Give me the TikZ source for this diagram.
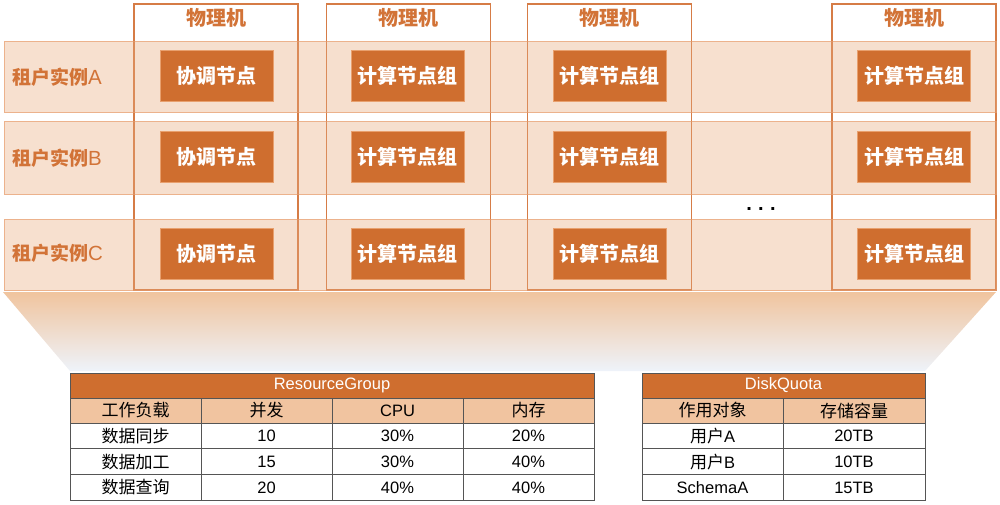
\documentclass[tikz,border=0pt]{standalone}
\usepackage{fontspec}
\setmainfont{Liberation Sans}
\newfontfamily\cjk{Noto Sans CJK SC}
\definecolor{colline}{RGB}{214,124,70}
\definecolor{bandline}{RGB}{236,178,140}
\definecolor{bandfill}{RGB}{239,193,159}
\definecolor{boxfill}{RGB}{207,110,47}
\definecolor{boxline}{RGB}{232,160,110}
\definecolor{otext}{RGB}{210,115,55}
\definecolor{hdrfill}{RGB}{241,196,160}
\definecolor{gridline}{RGB}{85,85,85}
\definecolor{gradtop}{RGB}{240,196,158}
\definecolor{gradbot}{RGB}{238,243,250}
\newcommand{\tc}[1]{{\cjk\fontsize{17}{20}\selectfont #1}}
\tikzset{
  machine/.style={draw=colline, line width=1.5pt, fill=white, minimum width=164pt, minimum height=286pt, inner sep=0pt, outer sep=0pt},
  machover/.style={draw=colline, draw opacity=0.55, line width=1.5pt, minimum width=164pt, minimum height=286pt, inner sep=0pt, outer sep=0pt},
  machlabel/.style={text=otext, font=\cjk\bfseries\fontsize{20}{24}\selectfont, inner sep=0pt},
  band/.style={draw=bandline, line width=1pt, fill=bandfill, fill opacity=0.5, minimum width=992pt, inner sep=0pt, outer sep=0pt},
  tenant/.style={text=otext, anchor=west, inner sep=0pt, font=\fontsize{20.5}{23}\selectfont},
  nodebox/.style={fill=boxfill, draw=boxline, line width=0.6pt, minimum width=113pt, minimum height=51pt, inner sep=0pt, text=white, font=\cjk\bfseries\fontsize{20}{24}\selectfont},
  cell/.style={draw=gridline, line width=0.8pt, inner sep=0pt, outer sep=0pt, font=\fontsize{16.5}{19}\selectfont, text=black},
  ttitle/.style={cell, fill=boxfill, text=white, minimum height=25pt},
  thead/.style={cell, fill=hdrfill, minimum height=25pt},
  tbody/.style={cell, fill=white, minimum height=25.7pt},
}
\begin{document}
\begin{tikzpicture}[x=1pt,y=-1pt]
\useasboundingbox (0,0) rectangle (1000,505);

% physical machines
\foreach \m/\x in {1/216,2/408.5,3/609.5,4/914}{
  \node[machine] (m\m) at (\x,147) {};
  \node[machlabel] (ml\m) at ([yshift=-14pt]m\m.north) {物理机};
}

% tenant bands
\node[band, minimum height=71pt] (bA) at (500,77.5) {};
\node[band, minimum height=72pt] (bB) at (500,158) {};
\node[band, minimum height=71pt] (bC) at (500,254.5) {};

% machine outlines showing through the bands
\foreach \m/\x in {1/216,2/408.5,3/609.5,4/914}{
  \node[machover] (mo\m) at (\x,147) {};
}

\node[tenant] (tA) at (12,77) {{\cjk\bfseries\fontsize{19}{23}\selectfont 租户实例}A};
\node[tenant] (tB) at (12,158) {{\cjk\bfseries\fontsize{19}{23}\selectfont 租户实例}B};
\node[tenant] (tC) at (12,253) {{\cjk\bfseries\fontsize{19}{23}\selectfont 租户实例}C};

% node boxes
\foreach \r/\y in {A/75.5,B/156.5,C/253.5}{
  \node[nodebox] (c1\r) at (216.5,\y) {协调节点};
  \node[nodebox] (c2\r) at (407.5,\y) {计算节点组};
  \node[nodebox] (c3\r) at (609.5,\y) {计算节点组};
  \node[nodebox] (c4\r) at (914,\y) {计算节点组};
}

\node[inner sep=0pt, font=\bfseries\fontsize{20}{24}\selectfont] (dots) at (761,209) {.\hspace{6.4pt}.\hspace{6.4pt}.};

% gradient funnel
\shade[top color=gradtop, bottom color=gradbot] (3,292) -- (996,292) -- (925,371) -- (70,371) -- cycle;

% ResourceGroup table
\node[ttitle, minimum width=524pt] (rgT) at (332,385.5) {ResourceGroup};
\foreach \c/\x/\t in {1/135.5/\tc{工作负载},2/266.5/\tc{并发},3/397.5/CPU,4/528.5/\tc{内存}}{
  \node[thead, minimum width=131pt] (rgH\c) at (\x,410.5) {\t};
}
\foreach \r/\y/\a/\b/\cc/\d in {1/436/数据同步/10/30\%/20\%,2/461.7/数据加工/15/30\%/40\%,3/487.4/数据查询/20/40\%/40\%}{
  \node[tbody, minimum width=131pt] (rg\r a) at (135.5,\y) {\tc{\a}};
  \node[tbody, minimum width=131pt] (rg\r b) at (266.5,\y) {\b};
  \node[tbody, minimum width=131pt] (rg\r c) at (397.5,\y) {\cc};
  \node[tbody, minimum width=131pt] (rg\r d) at (528.5,\y) {\d};
}

% DiskQuota table
\node[ttitle, minimum width=283pt] (dqT) at (783.5,385.5) {DiskQuota};
\node[thead, minimum width=141pt] (dqH1) at (712.5,410.5) {\tc{作用对象}};
\node[thead, minimum width=142pt] (dqH2) at (854,410.5) {\tc{存储容量}};
\foreach \r/\y/\a/\b in {1/436/{\tc{用户}A}/20TB,2/461.7/{\tc{用户}B}/10TB,3/487.4/SchemaA/15TB}{
  \node[tbody, minimum width=141pt] (dq\r a) at (712.5,\y) {\a};
  \node[tbody, minimum width=142pt] (dq\r b) at (854,\y) {\b};
}
\end{tikzpicture}
\end{document}
